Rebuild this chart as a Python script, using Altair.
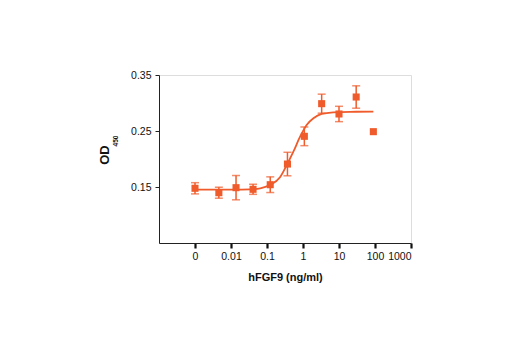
import altair as alt
import numpy as np
import pandas as pd

# ---- data ----
conc = [0.001, 0.0046, 0.0138, 0.041, 0.123, 0.37, 1.09, 3.3, 10, 30, 90]
od450 = [0.1477, 0.1398, 0.1488, 0.1459, 0.1541, 0.191, 0.2405, 0.2988, 0.2804, 0.3107, 0.2488]
sem = [0.010, 0.0098, 0.0217, 0.009, 0.014, 0.021, 0.0167, 0.017, 0.0137, 0.020, None]

curve_conc = [0.001, 0.0093, 0.034, 0.065, 0.12, 0.23, 0.355, 0.54, 0.83, 1.26, 1.95, 3.3, 6.9, 20.4, 90]
curve_od = [0.1452, 0.1454, 0.1459, 0.1477, 0.1536, 0.1673, 0.1893, 0.2130, 0.2398, 0.2607,
            0.2727, 0.2804, 0.2834, 0.2843, 0.2845]

tick_pos = [-3, -2, -1, 0, 1, 2, 3]
tick_labels = ["0", "0.01", "0.1", "1", "10", "100", "1000"]
y_ticks = [0.15, 0.25, 0.35]

COLOR = "#EF5B2B"
FONT = "Liberation Sans Narrow, Arial Narrow, Liberation Sans, sans-serif"

pts = pd.DataFrame({"logc": np.log10(conc), "od": od450, "sem": sem})
bars = pts.dropna().copy()
bars["lo"] = bars["od"] - bars["sem"]
bars["hi"] = bars["od"] + bars["sem"]
curve = pd.DataFrame({"logc": np.log10(curve_conc), "od": curve_od})

label_expr = "[" + ",".join("'%s'" % t for t in tick_labels) + "][datum.value + 3]"

xscale = alt.Scale(domain=[-4, 3], nice=False, zero=False)
yscale = alt.Scale(domain=[0.05, 0.35], nice=False, zero=False)

x_enc = alt.X(
    "logc:Q", scale=xscale,
    axis=alt.Axis(values=tick_pos, labelExpr=label_expr, title="hFGF9 (ng/ml)",
                  grid=False, tickSize=5, tickWidth=2.2, tickColor="#111",
                  domainColor="#222", domainWidth=1, labelFontSize=10.5, labelPadding=3,
                  labelFont=FONT, titleFont=FONT, titleFontSize=11, titleFontWeight="bold",
                  titlePadding=10, labelColor="#111", titleColor="#111"))
y_enc = alt.Y(
    "od:Q", scale=yscale,
    axis=alt.Axis(values=y_ticks, format=".2f", title=None, grid=False, tickSize=4,
                  tickWidth=1, tickColor="#222", domainColor="#222", domainWidth=1,
                  labelFontSize=10.5, labelPadding=4, labelFont=FONT, labelColor="#111"))

line = alt.Chart(curve).mark_line(color=COLOR, strokeWidth=1.8, interpolate="monotone").encode(
    x=x_enc, y=y_enc)

rules = alt.Chart(bars).mark_rule(color=COLOR, strokeWidth=1.5).encode(
    x="logc:Q", y="lo:Q", y2="hi:Q")
cap_lo = alt.Chart(bars).mark_tick(color=COLOR, size=8, thickness=1.5, orient="horizontal").encode(
    x="logc:Q", y="lo:Q")
cap_hi = alt.Chart(bars).mark_tick(color=COLOR, size=8, thickness=1.5, orient="horizontal").encode(
    x="logc:Q", y="hi:Q")

squares = alt.Chart(pts).mark_square(color=COLOR, size=50, opacity=1).encode(
    x="logc:Q", y="od:Q")

ytitle = alt.Chart(pd.DataFrame({"t": ["OD"]})).mark_text(
    angle=270, font=FONT, fontSize=13, fontWeight="bold", color="#111", align="center",
    baseline="middle").encode(x=alt.value(-54), y=alt.value(80), text="t:N")
ysub = alt.Chart(pd.DataFrame({"t": ["450"]})).mark_text(
    angle=270, font=FONT, fontSize=6.5, fontWeight="bold", color="#111", align="center",
    baseline="middle").encode(x=alt.value(-43), y=alt.value(66), text="t:N")

chart = alt.layer(line, rules, cap_lo, cap_hi, squares, ytitle, ysub).properties(
    width=252, height=168,
    autosize=alt.AutoSizeParams(type="none"),
    padding={"left": 159, "top": 75, "right": 109, "bottom": 107},
).configure_view(stroke=None).configure(background="white")

chart.save("out.html", embed_options={"renderer": "svg", "actions": False})
